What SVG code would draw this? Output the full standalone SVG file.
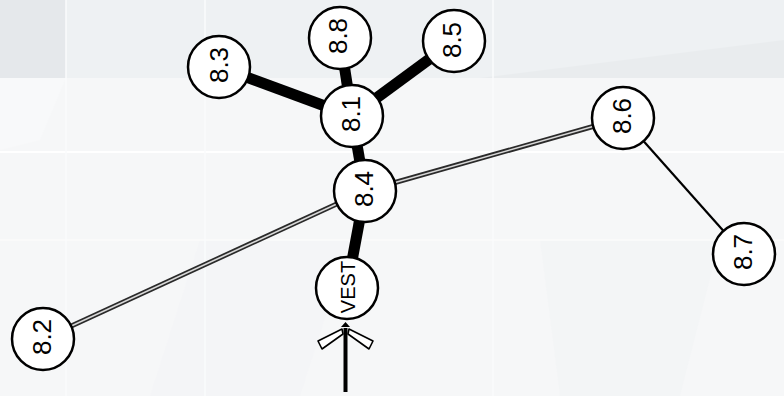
<svg xmlns="http://www.w3.org/2000/svg" width="784" height="396" viewBox="0 0 784 396">
<style>
.node circle{fill:#fff;stroke:#000;stroke-width:2.5}
.node text{font-family:"Liberation Sans",Arial,sans-serif;font-size:26px;fill:#000;text-anchor:middle}
.thick{stroke:#000;stroke-width:11;stroke-linecap:butt}
.dbl-o{stroke:#2a2a2a;stroke-width:5}
.dbl-i{stroke:#d8d8d8;stroke-width:1.6}
.thin{stroke:#000;stroke-width:2.2}
</style>
<g id="background">
<rect width="784" height="396" fill="#f6f7f8"/>
<rect x="0" y="0" width="784" height="78" fill="#eef1f3"/>
<rect x="0" y="0" width="66" height="78" fill="#e5e8eb"/>
<polygon points="0,78 66,78 40,140 0,150" fill="#f8f9fa"/>
<polygon points="480,78 784,40 784,78" fill="#e9ecee"/>
<polygon points="200,240 350,240 300,396 150,396" fill="#f3f4f6" opacity="0.6"/>
<polygon points="540,240 720,240 680,396 560,396" fill="#f2f3f5" opacity="0.6"/>
<line x1="0" y1="152" x2="784" y2="152" stroke="#ffffff" stroke-width="2"/>
<line x1="0" y1="240" x2="784" y2="240" stroke="#fbfbfb" stroke-width="1.5"/>
<line x1="66" y1="0" x2="66" y2="396" stroke="#fafbfc" stroke-width="1.5"/>
<line x1="205" y1="0" x2="205" y2="396" stroke="#fafbfc" stroke-width="1.5"/>
<line x1="493" y1="0" x2="493" y2="396" stroke="#fafbfc" stroke-width="1.5"/>
</g>
<g id="connectors" fill="none">
<line class="thick" x1="219" y1="67" x2="352" y2="116"/>
<line class="thick" x1="340" y1="38" x2="352" y2="116"/>
<line class="thick" x1="454" y1="41" x2="352" y2="116"/>
<line class="thick" x1="352" y1="116" x2="365" y2="191"/>
<line class="thick" x1="365" y1="191" x2="347" y2="288"/>
<line class="dbl-o" x1="43" y1="339" x2="365" y2="191"/>
<line class="dbl-i" x1="43" y1="339" x2="365" y2="191"/>
<line class="dbl-o" x1="365" y1="191" x2="623" y2="118"/>
<line class="dbl-i" x1="365" y1="191" x2="623" y2="118"/>
<line class="thin" x1="623" y1="118" x2="744" y2="254"/>
</g>
<g id="entry-arrow">
<line x1="345.5" y1="392" x2="345.5" y2="328" stroke="#000" stroke-width="4"/>
<polygon points="341,327 350,327 345.5,322" fill="#000"/>
<polygon points="342,329 318,341 322,349 343,334" fill="#fff" stroke="#000" stroke-width="1.6" stroke-linejoin="round"/>
<polygon points="349,329 373,341 369,349 348,334" fill="#fff" stroke="#000" stroke-width="1.6" stroke-linejoin="round"/>
</g>
<g id="n83" class="node"><circle cx="219" cy="67" r="31"/><text transform="translate(219,65) rotate(-90)" y="9">8.3</text></g>
<g id="n88" class="node"><circle cx="340" cy="38" r="31"/><text transform="translate(338,36) rotate(-90)" y="9">8.8</text></g>
<g id="n85" class="node"><circle cx="454" cy="41" r="31"/><text transform="translate(452,40) rotate(-90)" y="9">8.5</text></g>
<g id="n81" class="node"><circle cx="352" cy="116" r="31"/><text transform="translate(351,114) rotate(-90)" y="9">8.1</text></g>
<g id="n84" class="node"><circle cx="365" cy="191" r="31"/><text transform="translate(364,189) rotate(-90)" y="9">8.4</text></g>
<g id="nvest" class="node"><circle cx="347" cy="288" r="31"/><text transform="translate(348,287) rotate(-90)" y="7" style="font-size:20px">VEST</text></g>
<g id="n82" class="node"><circle cx="43" cy="339" r="31"/><text transform="translate(42,337) rotate(-90)" y="9">8.2</text></g>
<g id="n86" class="node"><circle cx="623" cy="118" r="31"/><text transform="translate(622,116) rotate(-90)" y="9">8.6</text></g>
<g id="n87" class="node"><circle cx="744" cy="254" r="31"/><text transform="translate(743,252) rotate(-90)" y="9">8.7</text></g>
</svg>
